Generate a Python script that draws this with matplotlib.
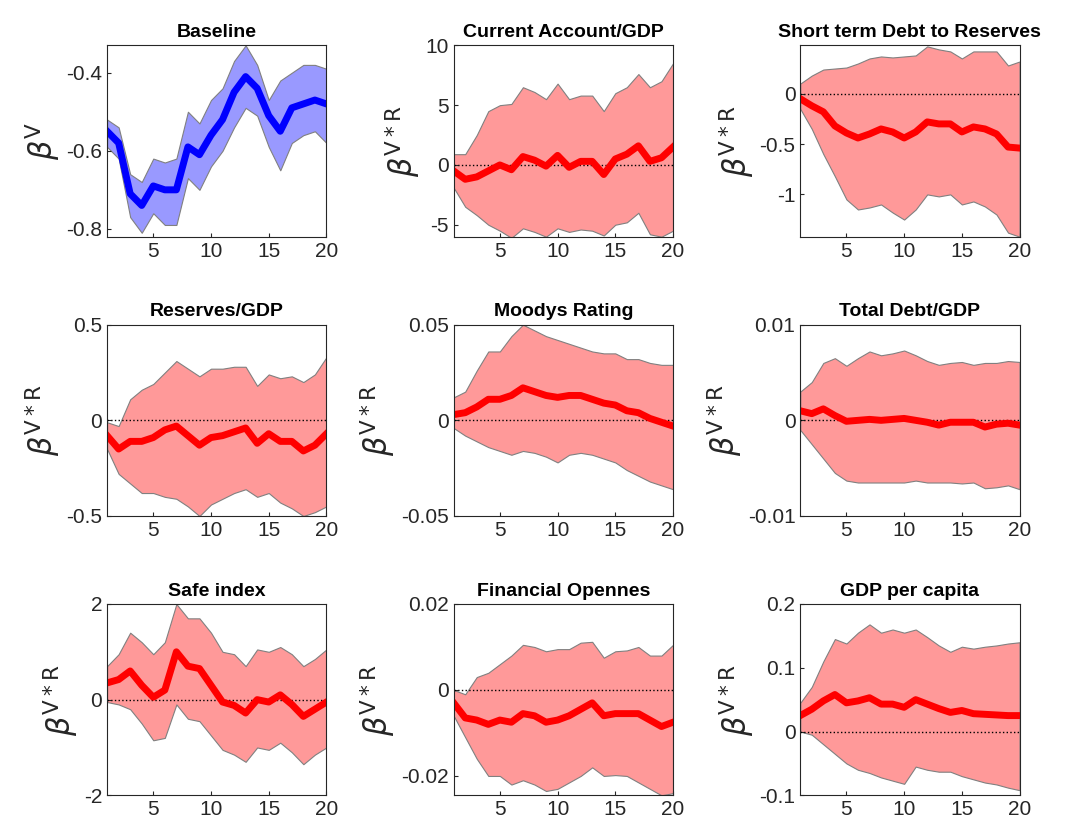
import numpy as np
import matplotlib.pyplot as plt

plt.rcParams['font.family'] = ['Liberation Sans Narrow', 'Liberation Sans', 'DejaVu Sans']

# horizons
h = np.arange(1, 21)

titles = ['Baseline', 'Current Account/GDP', 'Short term Debt to Reserves',
          'Reserves/GDP', 'Moodys Rating', 'Total Debt/GDP',
          'Safe index', 'Financial Opennes', 'GDP per capita']

# Baseline
base_mid = [-0.55, -0.58, -0.71, -0.74, -0.69, -0.70, -0.70, -0.59, -0.61, -0.56,
            -0.52, -0.45, -0.41, -0.44, -0.51, -0.55, -0.49, -0.48, -0.47, -0.48]
base_hi = [-0.52, -0.54, -0.66, -0.68, -0.62, -0.63, -0.62, -0.50, -0.53, -0.47,
           -0.44, -0.37, -0.33, -0.38, -0.47, -0.42, -0.40, -0.38, -0.38, -0.39]
base_lo = [-0.59, -0.62, -0.77, -0.81, -0.76, -0.79, -0.79, -0.67, -0.70, -0.64,
           -0.60, -0.54, -0.49, -0.51, -0.59, -0.65, -0.58, -0.56, -0.55, -0.58]

# Current Account/GDP
ca_mid = [-0.5, -1.2, -1.0, -0.5, 0.0, -0.4, 0.7, 0.4, -0.1, 0.8,
          -0.2, 0.3, 0.3, -0.8, 0.5, 0.9, 1.6, 0.3, 0.6, 1.5]
ca_hi = [0.9, 0.9, 2.5, 4.5, 5.0, 5.1, 6.5, 6.1, 5.5, 6.8,
         5.5, 5.8, 5.8, 4.5, 6.0, 6.5, 7.6, 6.5, 7.0, 8.5]
ca_lo = [-1.9, -3.5, -4.2, -5.0, -5.5, -6.1, -5.3, -5.6, -6.0, -5.3,
         -5.6, -5.4, -5.5, -5.9, -5.0, -4.8, -4.0, -5.8, -6.0, -5.5]

# Short term Debt to Reserves
sd_mid = [-0.05, -0.12, -0.18, -0.32, -0.39, -0.44, -0.40, -0.35, -0.38, -0.44,
          -0.38, -0.28, -0.30, -0.30, -0.38, -0.33, -0.35, -0.40, -0.53, -0.54]
sd_hi = [0.10, 0.18, 0.24, 0.25, 0.26, 0.30, 0.35, 0.37, 0.36, 0.37,
         0.38, 0.47, 0.44, 0.42, 0.35, 0.42, 0.42, 0.42, 0.28, 0.32]
sd_lo = [-0.15, -0.35, -0.60, -0.82, -1.05, -1.15, -1.13, -1.10, -1.18, -1.25,
         -1.15, -1.00, -1.02, -1.00, -1.10, -1.07, -1.12, -1.20, -1.38, -1.42]

# Reserves/GDP
rs_mid = [-0.08, -0.15, -0.11, -0.11, -0.09, -0.05, -0.03, -0.08, -0.13, -0.09,
          -0.08, -0.06, -0.04, -0.12, -0.07, -0.11, -0.11, -0.16, -0.13, -0.07]
rs_hi = [-0.01, -0.03, 0.11, 0.16, 0.19, 0.25, 0.31, 0.27, 0.23, 0.27,
         0.27, 0.28, 0.28, 0.18, 0.24, 0.22, 0.23, 0.20, 0.24, 0.33]
rs_lo = [-0.15, -0.28, -0.33, -0.38, -0.38, -0.40, -0.41, -0.45, -0.50, -0.44,
         -0.41, -0.38, -0.36, -0.40, -0.38, -0.43, -0.46, -0.50, -0.48, -0.45]

# Moodys Rating
md_mid = [0.003, 0.004, 0.007, 0.011, 0.011, 0.013, 0.017, 0.015, 0.013, 0.012,
          0.013, 0.013, 0.011, 0.009, 0.008, 0.005, 0.004, 0.001, -0.001, -0.003]
md_hi = [0.012, 0.015, 0.026, 0.036, 0.036, 0.044, 0.050, 0.047, 0.044, 0.042,
         0.040, 0.038, 0.036, 0.035, 0.035, 0.032, 0.032, 0.030, 0.029, 0.029]
md_lo = [-0.004, -0.008, -0.011, -0.014, -0.016, -0.018, -0.016, -0.017, -0.019, -0.022,
         -0.018, -0.017, -0.018, -0.020, -0.022, -0.026, -0.029, -0.032, -0.034, -0.036]

# Total Debt/GDP
td_mid = [0.0010, 0.0007, 0.0012, 0.0005, -0.0001, 0.0, 0.0001, 0.0, 0.0001, 0.0002,
          0.0, -0.0002, -0.0005, -0.0002, -0.0002, -0.0002, -0.0007, -0.0004, -0.0003, -0.0005]
td_hi = [0.0030, 0.0040, 0.0060, 0.0065, 0.0057, 0.0065, 0.0072, 0.0068, 0.0070, 0.0073,
         0.0068, 0.0062, 0.0058, 0.0060, 0.0061, 0.0058, 0.0060, 0.0060, 0.0062, 0.0061]
td_lo = [-0.0010, -0.0025, -0.0040, -0.0055, -0.0063, -0.0065, -0.0065, -0.0065, -0.0065, -0.0065,
         -0.0063, -0.0065, -0.0065, -0.0065, -0.0066, -0.0065, -0.0071, -0.0070, -0.0068, -0.0072]

# Safe index
sf_mid = [0.35, 0.42, 0.60, 0.30, 0.05, 0.20, 1.00, 0.70, 0.65, 0.30,
          -0.05, -0.12, -0.28, 0.0, -0.05, 0.10, -0.10, -0.35, -0.20, -0.05]
sf_hi = [0.70, 0.95, 1.40, 1.20, 0.95, 1.20, 2.00, 1.70, 1.70, 1.40,
         1.00, 0.95, 0.70, 1.05, 1.00, 1.10, 0.95, 0.70, 0.85, 1.05]
sf_lo = [-0.05, -0.10, -0.20, -0.50, -0.85, -0.80, -0.10, -0.40, -0.45, -0.75,
         -1.05, -1.15, -1.30, -1.00, -1.05, -0.90, -1.10, -1.35, -1.15, -1.00]

# Financial Opennes
fo_mid = [-0.003, -0.0065, -0.007, -0.008, -0.007, -0.0075, -0.0055, -0.006, -0.0075, -0.007,
          -0.006, -0.0045, -0.003, -0.006, -0.0055, -0.0055, -0.0055, -0.007, -0.0085, -0.0075]
fo_hi = [0.0, -0.001, 0.003, 0.004, 0.006, 0.008, 0.0105, 0.010, 0.009, 0.0095,
         0.0095, 0.011, 0.0112, 0.0075, 0.009, 0.0092, 0.010, 0.008, 0.008, 0.0105]
fo_lo = [-0.006, -0.011, -0.016, -0.020, -0.020, -0.022, -0.021, -0.022, -0.0235, -0.023,
         -0.0215, -0.020, -0.018, -0.020, -0.0198, -0.020, -0.0215, -0.023, -0.0245, -0.024]

# GDP per capita
gp_mid = [0.025, 0.035, 0.048, 0.058, 0.045, 0.048, 0.053, 0.043, 0.043, 0.038,
          0.050, 0.043, 0.036, 0.030, 0.033, 0.028, 0.027, 0.026, 0.025, 0.025]
gp_hi = [0.045, 0.070, 0.110, 0.145, 0.138, 0.155, 0.168, 0.155, 0.160, 0.155,
         0.160, 0.148, 0.135, 0.125, 0.133, 0.130, 0.133, 0.135, 0.138, 0.140]
gp_lo = [0.0, -0.005, -0.020, -0.035, -0.050, -0.060, -0.065, -0.072, -0.077, -0.082,
         -0.055, -0.060, -0.063, -0.063, -0.070, -0.075, -0.080, -0.083, -0.088, -0.092]

series = [(base_mid, base_lo, base_hi), (ca_mid, ca_lo, ca_hi), (sd_mid, sd_lo, sd_hi),
          (rs_mid, rs_lo, rs_hi), (md_mid, md_lo, md_hi), (td_mid, td_lo, td_hi),
          (sf_mid, sf_lo, sf_hi), (fo_mid, fo_lo, fo_hi), (gp_mid, gp_lo, gp_hi)]

ylims = [(-0.82, -0.33), (-6, 10), (-1.42, 0.48), (-0.5, 0.5), (-0.05, 0.05),
         (-0.01, 0.01), (-2, 2), (-0.0245, 0.02), (-0.1, 0.2)]
yticks = [[-0.8, -0.6, -0.4], [-5, 0, 5, 10], [-1, -0.5, 0], [-0.5, 0, 0.5],
          [-0.05, 0, 0.05], [-0.01, 0, 0.01], [-2, 0, 2], [-0.02, 0, 0.02], [-0.1, 0, 0.1, 0.2]]
yticklabels = [['-0.8', '-0.6', '-0.4'], ['-5', '0', '5', '10'], ['-1', '-0.5', '0'],
               ['-0.5', '0', '0.5'], ['-0.05', '0', '0.05'], ['-0.01', '0', '0.01'],
               ['-2', '0', '2'], ['-0.02', '0', '0.02'], ['-0.1', '0', '0.1', '0.2']]

fig, axes = plt.subplots(3, 3, figsize=(10.71, 8.25), dpi=100)
plt.subplots_adjust(left=0.1, right=0.952, top=0.945, bottom=0.036, wspace=0.58, hspace=0.46)

for i, ax in enumerate(axes.flat):
    mid, lo, hi = series[i]
    if i == 0:
        fc, lc = '#9999ff', '#0000ff'
    else:
        fc, lc = '#ff9999', '#ff0000'
    ax.fill_between(h, lo, hi, facecolor=fc, edgecolor='#808080', linewidth=0.8)
    if i > 0:
        ax.axhline(0, color='black', linestyle=':', linewidth=1)
    ax.plot(h, mid, color=lc, linewidth=5)
    ax.set_xlim(1, 20)
    ax.set_ylim(*ylims[i])
    ax.set_xticks([5, 10, 15, 20])
    ax.set_yticks(yticks[i])
    ax.set_yticklabels(yticklabels[i])
    ax.tick_params(labelsize=15, colors='#262626', direction='in', length=3)
    ax.set_title(titles[i], fontsize=14, fontweight='bold')
    sup = 'V' if i == 0 else 'V*R'
    ax.set_ylabel(r'$\beta^{\mathsf{' + sup + '}}$', fontsize=22, color='#262626', labelpad=2)
    for s in ax.spines.values():
        s.set_color('#262626')

plt.savefig('out.png', dpi=100)
